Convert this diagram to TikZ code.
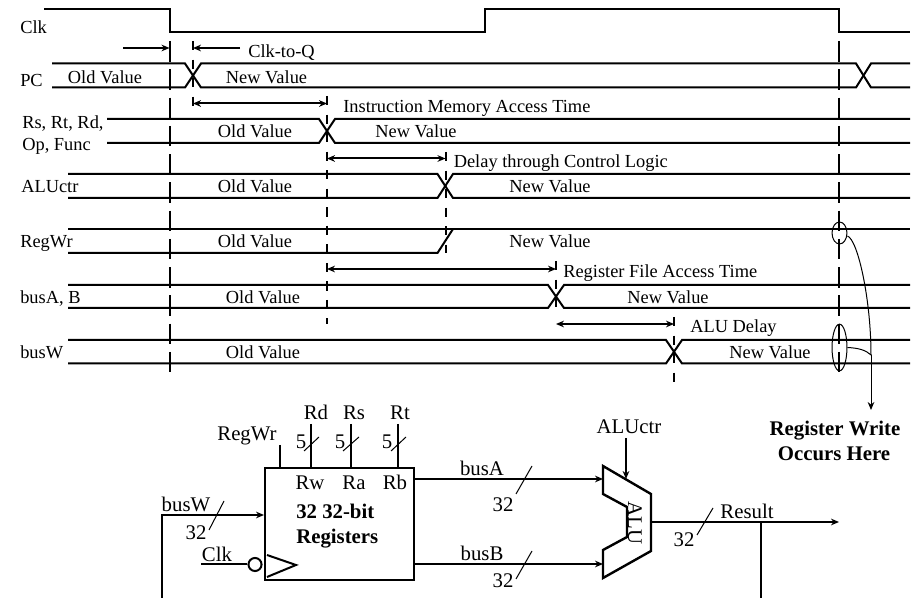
\documentclass[tikz,border=0pt]{standalone}
\usepackage{fontspec}
\setmainfont{Liberation Serif}
\usetikzlibrary{arrows.meta,shapes.geometric}
\tikzset{
  wave/.style={line width=1.5pt,line join=miter},
  wire/.style={line width=1.5pt},
  thin wire/.style={line width=.75pt},
  tip/.style={-{Stealth[length=6pt,width=5pt]}},
  twotip/.style={{Stealth[length=6pt,width=5pt]}-{Stealth[length=6pt,width=5pt]}},
  longguide/.style={line width=1.5pt,dash pattern=on 15.4pt off 5.8pt},
  shortguide/.style={line width=1.5pt,dash pattern=on 7pt off 6.9pt},
  txt/.style={anchor=base,inner sep=0pt,font=\fontsize{13.8}{16}\selectfont},
  txtl/.style={txt,anchor=base west},
  ltxt/.style={anchor=base,inner sep=0pt,font=\fontsize{15.6}{18}\selectfont},
  btxt/.style={anchor=base,inner sep=0pt,font=\fontsize{15.6}{18}\selectfont\bfseries},
  btxtl/.style={btxt,anchor=base west},
}
\begin{document}
\begin{tikzpicture}[x=.75pt,y=-.75pt]
\useasboundingbox (0,0) rectangle (922,598);
% clock
\draw[wave] (44,9) -- (169.5,9) -- (169.5,32.5) -- (484.5,32.5) -- (484.5,9) -- (839,9) -- (839,32.5) -- (910,32.5);
% guide lines and their end points
\coordinate (g1t) at (169.5,41);   \coordinate (g1b) at (169.5,379);
\coordinate (g2t) at (839,41);     \coordinate (g2b) at (839,379);
\coordinate (g3t) at (193,41);     \coordinate (g3b) at (193,106);
\coordinate (g4t) at (327,96);     \coordinate (g4b) at (327,324);
\coordinate (g5t) at (445.5,152);  \coordinate (g5b) at (445.5,253);
\coordinate (g6t) at (556,261);    \coordinate (g6b) at (556,308);
\coordinate (g7t) at (674,317);    \coordinate (g7b) at (674,382);
\draw[longguide] (g1t) -- (g1b);
\draw[longguide] (g2t) -- (g2b);
\draw[shortguide] (g3t) -- (g3b);
\draw[shortguide] (g4t) -- (g4b);
\draw[shortguide] (g5t) -- (g5b);
\draw[shortguide] (g6t) -- (g6b);
\draw[shortguide] (g7t) -- (g7b);
% waveforms
\draw[wave] (52,63.5) -- (185,63.5) -- (201,87.5) -- (856,87.5) -- (871,63.5) -- (910,63.5);
\draw[wave] (52,87.5) -- (185,87.5) -- (201,63.5) -- (856,63.5) -- (871,87.5) -- (910,87.5);
\draw[wave] (107,119) -- (319,119) -- (335,143) -- (910,143);
\draw[wave] (107,143) -- (319,143) -- (335,119) -- (910,119);
\draw[wave] (68,174) -- (437.5,174) -- (453,198) -- (910,198);
\draw[wave] (68,198) -- (437.5,198) -- (453,174) -- (910,174);
\draw[wave] (68,229) -- (910,229);
\draw[wave] (68,253) -- (437.5,253) -- (453,229);
\draw[wave] (68,285) -- (548,285) -- (564,308) -- (910,308);
\draw[wave] (68,308) -- (548,308) -- (564,285) -- (910,285);
\draw[wave] (68,340) -- (666,340) -- (682,363.5) -- (910,363.5);
\draw[wave] (68,363.5) -- (666,363.5) -- (682,340) -- (910,340);
% delay arrows
\coordinate (da) at (123,48);
\coordinate (db) at (240,48);
\draw[wire,tip] (da) -- (g1t |- da);
\draw[wire,tip] (db) -- (g3t |- db);
\draw[wire,twotip] (193,103.5) -- (327,103.5);
\draw[wire,twotip] (327,158.5) -- (445.5,158.5);
\draw[wire,twotip] (327,269) -- (556,269);
\draw[wire,twotip] (556,324) -- (674,324);
% timing labels
\node[txtl] (tClk) at (20,34) {Clk};
\node[txtl] (tPC) at (20,87) {PC};
\node[txtl] (tRs) at (22,129) {Rs, Rt, Rd,};
\node[txtl] (tOp) at (22,151) {Op, Func};
\node[txtl] (tALU) at (21,193) {ALUctr};
\node[txtl] (tReg) at (20,248) {RegWr};
\node[txtl] (tbusA) at (20,304) {busA, B};
\node[txtl] (tbusW) at (20,359) {busW};
\node[txt] (o1) at (105,83.3) {Old Value};
\node[txt] (n1) at (266.5,83.3) {New Value};
\node[txt] (o2) at (255,138) {Old Value};
\node[txt] (n2) at (416,138) {New Value};
\node[txt] (o3) at (255,193) {Old Value};
\node[txt] (n3) at (550,193) {New Value};
\node[txt] (o4) at (255,248) {Old Value};
\node[txt] (n4) at (550,248) {New Value};
\node[txt] (o5) at (263,304) {Old Value};
\node[txt] (n5) at (668,304) {New Value};
\node[txt] (o6) at (263,359) {Old Value};
\node[txt] (n6) at (770,359) {New Value};
\node[txtl] (d1) at (248,58) {Clk-to-Q};
\node[txtl] (d2) at (343,113) {Instruction Memory Access Time};
\node[txtl] (d3) at (453.5,168) {Delay through Control Logic};
\node[txtl] (d4) at (563,278) {Register File Access Time};
\node[txtl] (d5) at (690,333) {ALU Delay};
% write markers
\node[draw,line width=.75pt,ellipse,minimum width=11.2pt,minimum height=16.5pt,inner sep=0pt] (e1) at (839.5,233) {};
\node[draw,line width=.75pt,ellipse,minimum width=11.2pt,minimum height=35pt,inner sep=0pt] (e2) at (839.5,347.5) {};
\coordinate (ww) at (871,355);
\node[btxt] (w1) at (835,435.7) {Register Write};
\node[btxt] (w2) at (834,460.7) {Occurs Here};
\coordinate (wa) at (871,410);
\draw[thin wire] (e1.east) ++(0,3) .. controls (858,240) and (871,300) .. (ww);
\draw[thin wire,tip] (ww) -- (wa);
\draw[thin wire] (e2.east) .. controls (858,348) and (866,350) .. (ww);
% register file
\node[draw,line width=1.8pt,minimum width=111.75pt,minimum height=84pt,inner sep=0pt,anchor=north west] (regs) at (264,467) {};
\coordinate (pReg) at (280,445);
\coordinate (pRd) at (311,424);
\coordinate (pRs) at (351,424);
\coordinate (pRt) at (398,424);
\draw[wire] (pReg) -- (pReg |- regs.north);
\draw[wire] (pRd) -- (pRd |- regs.north);
\draw[wire] (pRs) -- (pRs |- regs.north);
\draw[wire] (pRt) -- (pRt |- regs.north);
\draw[thin wire] (304,451) -- (319,437);
\draw[thin wire] (343,451) -- (359,437);
\draw[thin wire] (391,451) -- (406,437);
\node[ltxt] (lRd) at (316,420) {Rd};
\node[ltxt] (lRs) at (354,420) {Rs};
\node[ltxt] (lRt) at (400,420) {Rt};
\node[ltxt] (lReg) at (247,440.7) {RegWr};
\node[ltxt] (f1) at (301,448.7) {5};
\node[ltxt] (f2) at (340,448.7) {5};
\node[ltxt] (f3) at (387,448.7) {5};
\node[ltxt] (lRw) at (310,490) {Rw};
\node[ltxt] (lRa) at (354,490) {Ra};
\node[ltxt] (lRb) at (395,490) {Rb};
\node[btxtl] (r1) at (296,518.7) {32 32-bit};
\node[btxtl] (r2) at (296,543.7) {Registers};
% busW
\coordinate (wbot) at (162,598);
\coordinate (wcorner) at (162,515);
\draw[wire,tip] (wbot) -- (wcorner) -- (regs.west |- wcorner);
\node[ltxt] (lbusW) at (186,512) {busW};
\draw[thin wire] (209,530) -- (224,501);
\node[ltxt] (lw32) at (196,539.7) {32};
% clock input
\node[draw,line width=1.5pt,circle,minimum size=9.8pt,inner sep=0pt] (bub) at (255,564.5) {};
\coordinate (clkin) at (201,564.5);
\draw[wire] (clkin) -- (bub);
\node[ltxt] (lClk) at (217,562) {Clk};
\draw[wire] (267,555) -- (296,565) -- (267,577);
% ALU
\coordinate (a1) at (603,466);
\coordinate (a2) at (651,494);
\coordinate (a3) at (651,551);
\coordinate (a4) at (603,578);
\coordinate (a5) at (603,550);
\coordinate (a6) at (627,537);
\coordinate (a7) at (627,507);
\coordinate (a8) at (603,494);
\draw[line width=1.8pt,line join=miter] (a1) -- (a2) -- (a3) -- (a4) -- (a5) -- (a6) -- (a7) -- (a8) -- cycle;
\node[ltxt,anchor=center,rotate=-90] (lALU) at (635,523) {ALU};
\node[ltxt] (lctr) at (629,433.7) {ALUctr};
\coordinate (ctr) at (626,438);
\coordinate (ctrend) at (626,479);
\draw[wire,tip] (ctr) -- (ctrend);
\coordinate (ain) at (603,479);
\coordinate (bin) at (603,564);
\draw[wire,tip] (regs.east |- ain) -- (ain);
\draw[wire,tip] (regs.east |- bin) -- (bin);
\node[ltxt] (lbusA) at (482,476) {busA};
\node[ltxt] (lbusB) at (482,560.7) {busB};
\draw[thin wire] (516,494) -- (532,466);
\draw[thin wire] (516,579) -- (532,551);
\node[ltxt] (la32) at (503,512) {32};
\node[ltxt] (lb32) at (503,588) {32};
% result
\coordinate (res) at (839,522);
\coordinate (tap) at (761,522);
\coordinate (rbot) at (761,598);
\draw[wire,tip] (a2 |- res) -- (res);
\draw[wire] (tap) -- (rbot);
\node[ltxt] (lres) at (747,518.7) {Result};
\draw[thin wire] (697,535) -- (713,508);
\node[ltxt] (lr32) at (684,547) {32};
\end{tikzpicture}
\end{document}
